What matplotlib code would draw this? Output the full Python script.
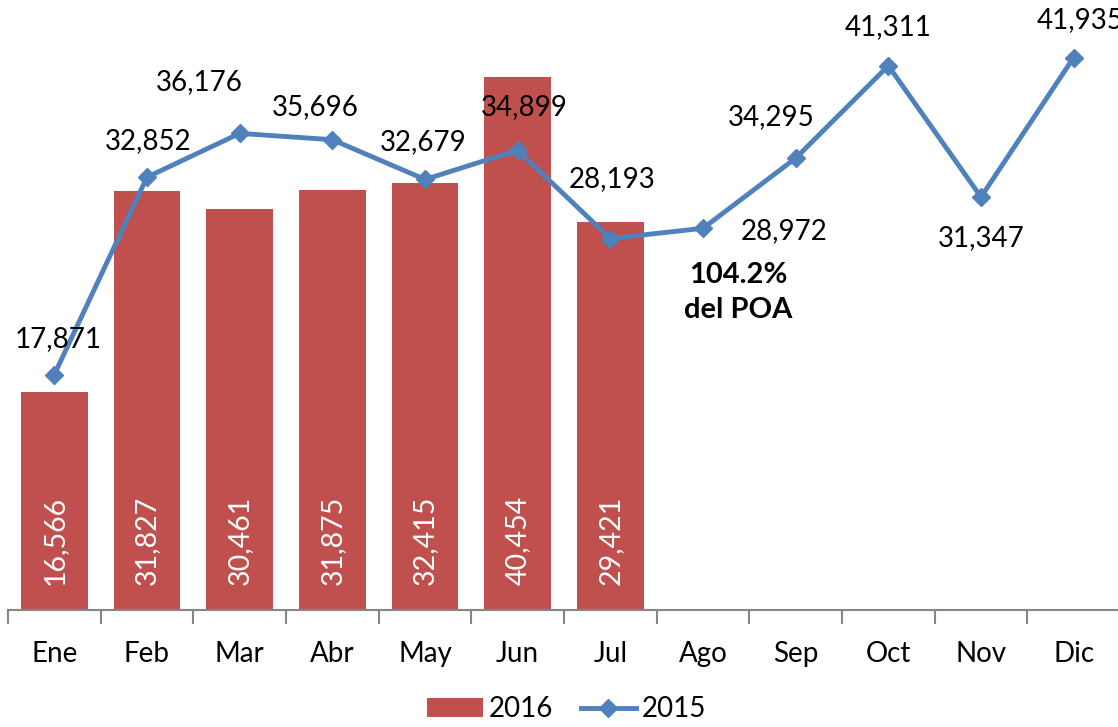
import matplotlib.pyplot as plt
import numpy as np

plt.rcParams['font.family'] = ['Lato', 'DejaVu Sans']

meses = ['Ene', 'Feb', 'Mar', 'Abr', 'May', 'Jun', 'Jul', 'Ago', 'Sep', 'Oct', 'Nov', 'Dic']
valores_2016 = [16566, 31827, 30461, 31875, 32415, 40454, 29421]
valores_2015 = [17871, 32852, 36176, 35696, 32679, 34899, 28193, 28972, 34295, 41311, 31347, 41935]

# decalage des etiquettes de la ligne (pixels)
decalage_2015 = [(4, -36), (1, -36), (-40, -51), (-17, -33), (-2, -37), (7, -43),
                 (2, -60), (81, 3), (-24, -41), (0, -39), (0, 41), (6, -37)]

rouge = '#C0504D'
bleu = '#4F81BD'

fig = plt.figure(figsize=(11.18, 7.27), dpi=100)
ax = fig.add_axes([8 / 1118, 117 / 727, 1112 / 1118, 610 / 727])

x = np.arange(len(meses))
x_2016 = np.arange(len(valores_2016))

barres = ax.bar(x_2016, valores_2016, width=0.72, color=rouge, label='2016', zorder=2)
ligne, = ax.plot(x, valores_2015, color=bleu, lw=3.5, marker='D', markersize=9,
                 label='2015', zorder=3)

for i, v in enumerate(valores_2016):
    ax.annotate(f'{v:,}', (i, 0), xytext=(0, 25), textcoords='offset pixels',
                rotation=90, ha='center', va='bottom', color='white', fontsize=20.5)

for i, v in enumerate(valores_2015):
    dx, dy = decalage_2015[i]
    ax.annotate(f'{v:,}', (i, v), xytext=(dx, -dy), textcoords='offset pixels',
                ha='center', va='center', color='black', fontsize=20,
                annotation_clip=False)

ax.text(7.38, 24100, '104.2%\ndel POA', ha='center', va='center', fontsize=21,
        fontweight='bold', linespacing=1.45)

ax.set_xlim(-0.5, 11.5)
ax.set_ylim(0, 46300)
ax.set_yticks([])
for s in ['left', 'right', 'top']:
    ax.spines[s].set_visible(False)
ax.spines['bottom'].set_color('#868686')
ax.spines['bottom'].set_linewidth(1.5)

ax.set_xticks(x)
ax.set_xticklabels(meses, fontsize=20)
ax.tick_params(axis='x', length=0, pad=22)
ax.set_xticks(np.arange(-0.5, 12, 1), minor=True)
ax.tick_params(axis='x', which='minor', length=10, width=1.5, color='#868686')

fig.legend(handles=[barres, ligne], loc='lower center', bbox_to_anchor=(0.507, -0.028),
           ncol=2, frameon=False, fontsize=20, handlelength=2.0, handletextpad=0.2,
           columnspacing=1.0)

fig.savefig('out.png', dpi=100)
